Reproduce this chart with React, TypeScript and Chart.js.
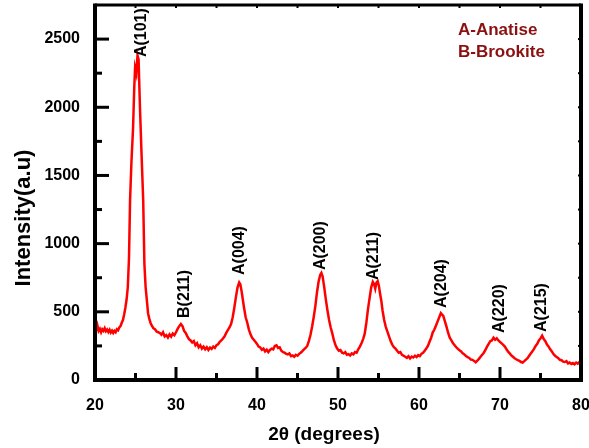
import React, { useEffect, useRef } from "react";
import { Chart, registerables } from "chart.js";
Chart.register(...registerables);

const FONT = "'Liberation Sans', Arial, sans-serif";

const twoTheta = [
  20.0, 20.15, 20.3, 20.45, 20.6, 20.75, 20.9, 21.05, 21.2, 21.35, 21.5, 21.65, 21.8, 21.95, 22.1, 22.25, 22.4, 22.55, 22.7, 22.85,
  23.0, 23.15, 23.3, 23.45, 23.6, 23.75, 23.9, 24.05, 24.2, 24.33, 24.5, 24.7, 24.85, 24.95, 25.1, 25.25, 25.38, 25.55, 25.75, 25.95,
  26.1, 26.25, 26.4, 26.55, 26.7, 26.85, 27.0, 27.2, 27.4, 27.6, 27.8, 28.0, 28.2, 28.4, 28.6, 28.8, 29.0, 29.2, 29.4, 29.6,
  29.8, 30.0, 30.2, 30.4, 30.6, 30.8, 31.0, 31.2, 31.4, 31.6, 31.8, 32.0, 32.2, 32.4, 32.6, 32.8, 33.0, 33.2, 33.4, 33.6,
  33.8, 34.0, 34.2, 34.4, 34.6, 34.8, 35.0, 35.2, 35.4, 35.6, 35.8, 36.0, 36.2, 36.4, 36.6, 36.8, 37.0, 37.2, 37.4, 37.6,
  37.8, 37.95, 38.1, 38.25, 38.4, 38.6, 38.8, 39.0, 39.2, 39.4, 39.6, 39.8, 40.0, 40.2, 40.4, 40.6, 40.8, 41.0, 41.2, 41.4,
  41.6, 41.8, 42.0, 42.2, 42.4, 42.6, 42.8, 43.0, 43.2, 43.4, 43.6, 43.8, 44.0, 44.2, 44.4, 44.6, 44.8, 45.0, 45.2, 45.4,
  45.6, 45.8, 46.0, 46.2, 46.4, 46.6, 46.8, 47.0, 47.2, 47.4, 47.6, 47.8, 47.95, 48.1, 48.3, 48.5, 48.7, 48.9, 49.1, 49.3,
  49.5, 49.7, 49.9, 50.1, 50.3, 50.5, 50.7, 50.9, 51.1, 51.3, 51.5, 51.7, 51.9, 52.1, 52.3, 52.5, 52.7, 52.9, 53.1, 53.3,
  53.5, 53.7, 53.9, 54.1, 54.3, 54.45, 54.6, 54.75, 54.9, 55.05, 55.2, 55.35, 55.5, 55.7, 55.9, 56.1, 56.3, 56.5, 56.7, 56.9,
  57.1, 57.3, 57.5, 57.7, 57.9, 58.1, 58.3, 58.5, 58.7, 58.9, 59.1, 59.3, 59.5, 59.7, 59.9, 60.1, 60.3, 60.5, 60.7, 60.9,
  61.1, 61.3, 61.5, 61.7, 61.9, 62.1, 62.3, 62.5, 62.7, 62.85, 63.0, 63.2, 63.4, 63.6, 63.8, 64.0, 64.2, 64.4, 64.6, 64.8,
  65.0, 65.2, 65.4, 65.6, 65.8, 66.0, 66.2, 66.4, 66.6, 66.8, 67.0, 67.2, 67.4, 67.6, 67.8, 68.0, 68.2, 68.4, 68.6, 68.8,
  69.0, 69.2, 69.4, 69.6, 69.8, 70.0, 70.2, 70.4, 70.6, 70.8, 71.0, 71.2, 71.4, 71.6, 71.8, 72.0, 72.2, 72.4, 72.6, 72.8,
  73.0, 73.2, 73.4, 73.6, 73.8, 74.0, 74.2, 74.4, 74.6, 74.8, 75.0, 75.2, 75.4, 75.6, 75.8, 76.0, 76.2, 76.4, 76.6, 76.8,
  77.0, 77.2, 77.4, 77.6, 77.8, 78.0, 78.2, 78.4, 78.6, 78.8, 79.0, 79.2, 79.4, 79.6, 79.8, 80.0,
];

const intensity = [
  345, 365, 400, 360, 375, 350, 372, 360, 380, 358, 370, 352, 368, 348, 362, 345, 360, 350, 372, 365,
  385, 395, 420, 440, 480, 530, 590, 680, 900, 1320, 1600, 1850, 2150, 2290, 2250, 2380, 2350, 2000, 1650, 1320,
  850, 680, 585, 490, 450, 420, 400, 380, 372, 355, 350, 345, 332, 350, 320, 330, 312, 335, 318, 340,
  328, 350, 375, 395, 410, 395, 360, 345, 320, 300, 290, 275, 285, 255, 270, 240, 255, 230, 245, 225,
  240, 220, 238, 228, 245, 235, 255, 262, 280, 290, 305, 320, 345, 365, 385, 410, 460, 530, 610, 680,
  715, 700, 650, 590, 530, 460, 420, 370, 335, 310, 295, 280, 265, 245, 238, 222, 230, 210, 222, 205,
  220, 230, 225, 250, 255, 235, 240, 215, 205, 200, 192, 188, 195, 175, 180, 170, 185, 178, 192, 200,
  212, 225, 235, 250, 285, 330, 390, 460, 540, 640, 720, 770, 785, 760, 680, 590, 510, 440, 385, 340,
  290, 255, 230, 215, 220, 200, 195, 205, 185, 190, 180, 195, 188, 205, 200, 225, 245, 270, 300, 340,
  420, 520, 600, 680, 720, 705, 670, 715, 725, 690, 630, 580, 510, 440, 390, 355, 320, 285, 260, 240,
  230, 215, 200, 205, 185, 178, 170, 162, 175, 158, 172, 165, 178, 168, 182, 175, 192, 200, 215, 230,
  250, 280, 310, 350, 370, 400, 430, 460, 490, 480, 470, 430, 390, 345, 310, 290, 270, 255, 240, 228,
  218, 210, 195, 188, 175, 168, 162, 150, 148, 140, 130, 142, 155, 170, 185, 200, 220, 245, 265, 285,
  290, 310, 295, 305, 290, 280, 268, 258, 245, 225, 208, 195, 180, 170, 160, 152, 145, 140, 132, 128,
  138, 150, 160, 178, 195, 210, 228, 250, 265, 290, 305, 325, 300, 285, 260, 245, 225, 210, 190, 178,
  168, 160, 148, 145, 135, 132, 138, 122, 128, 118, 125, 115, 128, 120, 132, 125,
];

const peakLabels = ["A(101)", "B(211)", "A(004)", "A(200)", "A(211)", "A(204)", "A(220)", "A(215)"];
const peakTheta = [25.8, 31.0, 37.8, 47.8, 54.4, 62.8, 69.9, 75.1];
const peakLabelBase = [2368, 455, 770, 806, 733, 528, 345, 352];

const legendLines = ["A-Anatise", "B-Brookite"];
const yTickValues = [0, 500, 1000, 1500, 2000, 2500];
const xTitle = "2\u03b8 (degrees)";
const yTitle = "Intensity(a.u)";

const decor = {
  id: "decor",
  afterDatasetsDraw(chart: any) {
    const { ctx, chartArea: a, scales } = chart;
    const x = scales.x;
    const y = scales.y;
    const seg = (x1: number, y1: number, x2: number, y2: number) => {
      ctx.beginPath();
      ctx.moveTo(x1, y1);
      ctx.lineTo(x2, y2);
      ctx.stroke();
    };
    ctx.save();
    ctx.strokeStyle = "#000";
    ctx.lineCap = "butt";
    for (let v = 25; v < 80; v += 5) {
      const px = x.getPixelForValue(v);
      const major = v % 10 === 0;
      ctx.lineWidth = 3;
      seg(px, a.bottom, px, a.bottom - (major ? 13 : 7));
      ctx.lineWidth = 2;
      seg(px, a.top, px, a.top + 3);
    }
    for (let v = 250; v <= 2500; v += 250) {
      const py = y.getPixelForValue(v);
      const major = v % 500 === 0;
      ctx.lineWidth = 3;
      seg(a.left, py, a.left + (major ? 14 : 7), py);
      ctx.lineWidth = 2;
      seg(a.right, py, a.right - 3, py);
    }
    ctx.lineWidth = 4;
    seg(a.left, a.top - 1.5, a.left, a.bottom + 2);
    seg(a.left - 2, a.bottom, a.right + 2, a.bottom);
    seg(a.right, a.top - 1.5, a.right, a.bottom + 2);
    ctx.lineWidth = 3;
    seg(a.left, a.top, a.right, a.top);

    ctx.fillStyle = "#000";
    ctx.font = `bold 16px ${FONT}`;
    ctx.textAlign = "left";
    ctx.textBaseline = "middle";
    peakLabels.forEach((lab, i) => {
      const px = x.getPixelForValue(peakTheta[i]);
      const py = y.getPixelForValue(peakLabelBase[i]);
      ctx.save();
      ctx.translate(px, py);
      ctx.rotate(-Math.PI / 2);
      ctx.fillText(lab, 0, 0);
      ctx.restore();
    });

    ctx.fillStyle = "#8b1010";
    ctx.font = `bold 17px ${FONT}`;
    ctx.textBaseline = "alphabetic";
    ctx.fillText(legendLines[0], 458, 35);
    ctx.fillText(legendLines[1], 458, 57);

    ctx.fillStyle = "#000";
    ctx.font = `bold 19px ${FONT}`;
    ctx.textAlign = "center";
    ctx.fillText(xTitle, 324, 440);

    ctx.font = `bold 22px ${FONT}`;
    ctx.save();
    ctx.translate(30, 218);
    ctx.rotate(-Math.PI / 2);
    ctx.textBaseline = "alphabetic";
    ctx.fillText(yTitle, 0, 0);
    ctx.restore();

    ctx.restore();
  },
};

const zeroPad = (s: any) => {
  s.paddingLeft = 0;
  s.paddingRight = 0;
  s.paddingTop = 0;
  s.paddingBottom = 0;
};

export default function App() {
  const ref = useRef<HTMLCanvasElement>(null);
  useEffect(() => {
    document.body.style.margin = "0";
    const canvas = ref.current!;
    const chart = new Chart(canvas, {
      type: "line",
      data: {
        datasets: [
          {
            data: twoTheta.map((t, i) => ({ x: t, y: intensity[i] })),
            borderColor: "#ff0000",
            borderWidth: 2.5,
            pointRadius: 0,
            tension: 0,
            fill: false,
          },
        ],
      },
      options: {
        animation: false,
        responsive: false,
        devicePixelRatio: 1,
        layout: { padding: { top: 5, right: 8, left: 0, bottom: 0 } },
        plugins: { legend: { display: false }, tooltip: { enabled: false } },
        scales: {
          x: {
            type: "linear",
            min: 20,
            max: 80,
            grid: { display: false, drawTicks: false },
            border: { display: false },
            ticks: {
              stepSize: 10,
              padding: 16,
              color: "#000",
              font: { family: FONT, size: 16, weight: "bold" },
              maxRotation: 0,
              callback: (v: any) => String(v),
            },
            afterFit: (s: any) => {
              s.height = 68;
              zeroPad(s);
            },
          },
          y: {
            type: "linear",
            min: 0,
            max: 2750,
            grid: { display: false, drawTicks: false },
            border: { display: false },
            ticks: {
              padding: 15,
              color: "#000",
              font: { family: FONT, size: 16, weight: "bold" },
              callback: (v: any) => String(v),
            },
            afterBuildTicks: (s: any) => {
              s.ticks = yTickValues.map((v) => ({ value: v }));
            },
            afterFit: (s: any) => {
              s.width = 95;
              zeroPad(s);
            },
          },
        },
      },
      plugins: [decor],
    });
    return () => chart.destroy();
  }, []);
  return (
    <div style={{ width: 589, height: 448, background: "#fff" }}>
      <canvas ref={ref} width={589} height={448} style={{ display: "block" }} />
    </div>
  );
}
